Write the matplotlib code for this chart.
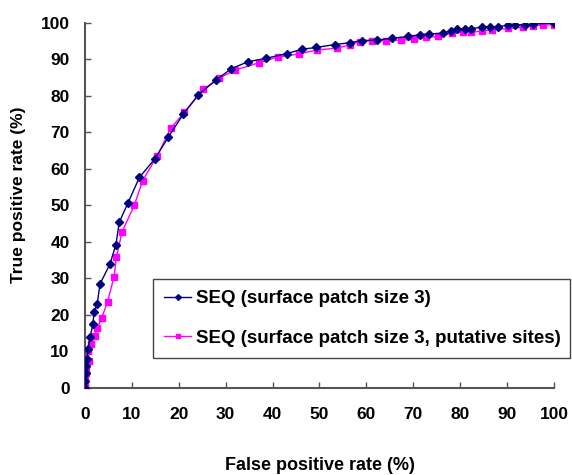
import matplotlib
matplotlib.use("Agg")
import matplotlib.pyplot as plt

plt.rcParams['font.family'] = ['Liberation Sans', 'DejaVu Sans']

# Series 1: SEQ (surface patch size 3)
seq_fpr = [0.0, 0.1, 0.2, 0.3, 0.4, 0.6, 1.1, 1.7, 1.9, 2.6, 3.2, 5.3, 6.6, 7.3, 9.2,
           11.6, 14.9, 17.8, 21.0, 24.2, 27.9, 31.2, 34.8, 38.5, 43.0, 46.2, 49.3,
           53.3, 56.5, 59.0, 62.2, 65.4, 68.9, 71.4, 73.4, 76.4, 78.0, 79.4, 81.0,
           82.4, 84.6, 86.4, 88.1, 90.3, 91.7, 93.8, 95.6, 100.0]
seq_tpr = [0.0, 2.0, 4.0, 6.0, 8.0, 10.6, 14.0, 17.6, 20.7, 23.0, 28.5, 33.9, 39.3,
           45.4, 50.8, 57.7, 62.8, 68.8, 75.1, 80.4, 84.3, 87.5, 89.4, 90.3, 91.6,
           92.8, 93.3, 94.1, 94.6, 95.2, 95.3, 95.8, 96.3, 96.8, 97.0, 97.2, 97.9,
           98.4, 98.4, 98.4, 98.9, 99.0, 99.0, 99.4, 99.5, 99.5, 99.7, 100.0]

# Series 2: SEQ (surface patch size 3, putative sites)
put_fpr = [0.0, 0.0, 0.1, 0.2, 0.2, 0.8, 0.7, 1.3, 2.1, 2.6, 3.6, 4.8, 6.2, 6.7, 7.9,
           10.5, 12.3, 15.4, 18.3, 21.2, 25.2, 28.6, 32.0, 37.1, 41.1, 45.6, 49.4,
           53.7, 56.4, 58.6, 61.1, 64.2, 67.3, 70.2, 72.7, 75.3, 78.2, 80.5, 82.2,
           84.6, 86.7, 90.3, 93.5, 95.6, 97.7, 100.0]
put_tpr = [0.0, 1.0, 2.5, 4.0, 5.8, 7.5, 10.1, 12.1, 14.3, 16.4, 19.3, 23.6, 30.5,
           35.8, 42.8, 50.0, 56.8, 63.6, 71.2, 75.5, 81.8, 84.9, 87.1, 89.1, 90.7,
           91.5, 92.6, 93.1, 94.0, 94.9, 95.2, 95.2, 95.3, 95.5, 96.1, 96.3, 97.2,
           97.6, 97.4, 97.8, 98.1, 98.5, 98.8, 99.2, 99.5, 99.5]

labels = ["SEQ (surface patch size 3)", "SEQ (surface patch size 3, putative sites)"]
ticks = [0, 10, 20, 30, 40, 50, 60, 70, 80, 90, 100]

fig = plt.figure(figsize=(5.72, 4.75), dpi=100)
ax = fig.add_axes([0.1486, 0.1832, 0.8199, 0.7684])

ax.plot(put_fpr, put_tpr, color='#ff00ff', lw=1.0, marker='s', ms=5,
        mec='#ff00ff', mfc='#ff00ff', label=labels[1], zorder=2)
ax.plot(seq_fpr, seq_tpr, color='#000080', lw=1.0, marker='D', ms=4.2,
        mec='#000080', mfc='#000080', label=labels[0], zorder=3)

ax.set_xlim(0, 100)
ax.set_ylim(0, 100)
ax.set_xticks(ticks)
ax.set_yticks(ticks)
ax.set_xticklabels([str(t) for t in ticks], fontsize=12.5, fontweight='bold')
ax.set_yticklabels([str(t) for t in ticks], fontsize=12.5, fontweight='bold')
ax.tick_params(axis='both', direction='in', length=4, width=1, color='#555555')
ax.tick_params(axis='y', pad=11)
ax.tick_params(axis='x', pad=14)

for s in ['top', 'right']:
    ax.spines[s].set_visible(False)
for s in ['left', 'bottom']:
    ax.spines[s].set_color('#555555')
    ax.spines[s].set_linewidth(1.5)

ax.set_xlabel("False positive rate (%)", fontsize=13, fontweight='bold')
ax.xaxis.label.set_va('center')
ax.xaxis.set_label_coords(0.5, (388 - 466) / 365)
ax.set_ylabel("True positive rate (%)", fontsize=12.5, fontweight='bold')
ax.yaxis.label.set_va('center')
ax.yaxis.set_label_coords((18 - 85) / 469, (388 - 195) / 365)

handles, labs = ax.get_legend_handles_labels()
leg = ax.legend(handles[::-1], labs[::-1], loc='lower left',
                bbox_to_anchor=((153 - 85) / 469, (388 - 358) / 365, (570 - 153) / 469, (358 - 273) / 365),
                mode='expand', fancybox=False, framealpha=1, edgecolor='#444444',
                prop={'weight': 'bold', 'size': 13.5}, handlelength=1.45, markerscale=0.7,
                labelspacing=1.2, borderpad=0.6, borderaxespad=0, handletextpad=0.25)
leg.get_frame().set_linewidth(1.0)
leg.set_clip_on(False)

fig.savefig("out.png", dpi=100)
